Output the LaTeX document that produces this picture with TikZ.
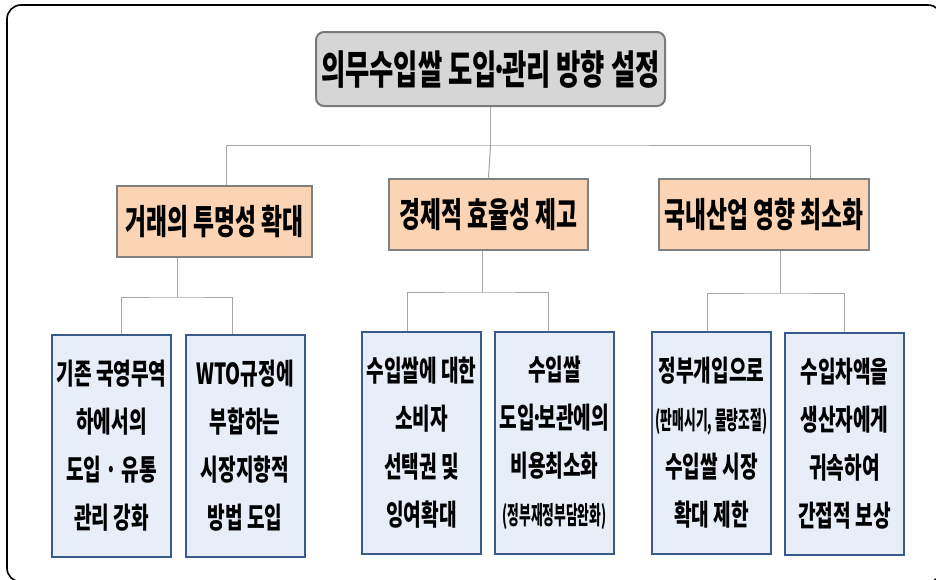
\documentclass[tikz,border=0pt]{standalone}
\usepackage{fontspec}
\setmainfont{Noto Sans CJK KR}[FakeStretch=0.66]
\newfontfamily\krs{Noto Sans CJK KR}[FakeStretch=0.51]
\definecolor{topfill}{HTML}{D6D6D6}
\definecolor{topline}{HTML}{7A7A7A}
\definecolor{midfill}{HTML}{FAD4B4}
\definecolor{midline}{HTML}{808080}
\definecolor{lowfill}{HTML}{E7EEF8}
\definecolor{lowline}{HTML}{3A5A8C}
\definecolor{connc}{HTML}{A6A6A6}
\tikzset{
  topbox/.style={draw=topline, fill=topfill, line width=2pt, rounded corners=8pt,
    minimum width=349pt, minimum height=74pt, inner sep=0pt,
    font=\bfseries\fontsize{40}{44}\selectfont},
  midbox/.style={draw=midline, fill=midfill, line width=2pt,
    minimum height=71pt, inner sep=0pt,
    font=\bfseries\fontsize{34.5}{38}\selectfont},
  lowbox/.style={draw=lowline, fill=lowfill, line width=2pt,
    minimum width=119pt, minimum height=222pt, inner sep=0pt, align=center,
    font=\bfseries\fontsize{29}{48}\selectfont},
  conn/.style={draw=connc, line width=1pt}
}
\newcommand{\sm}[1]{{\krs\bfseries\fontsize{25}{48}\selectfont #1}}
\newcommand{\tdot}{\kern-0.14em·\kern-0.14em}
\begin{document}
\begin{tikzpicture}[x=1pt,y=-1pt]
\useasboundingbox (0,0) rectangle (936,579);
\clip (0,0) rectangle (936,579);
\fill[white] (0,0) rectangle (936,579);
\draw[line width=1.6pt, rounded corners=14pt] (7,5) rectangle (942,582);

\node[topbox] (top) at (490.5,69) {의무수입쌀 도입\tdot 관리 방향 설정};

\node[midbox, minimum width=195pt] (A) at (214.5,221.5) {거래의 투명성 확대};
\node[midbox, minimum width=199pt] (B) at (488.5,214.5) {경제적 효율성 제고};
\node[midbox, minimum width=210pt] (C) at (764,214.5) {국내산업 영향 최소화};

\node[lowbox] (A1) at (111.5,446) {기존 국영무역\\하에서의\\도입 · 유통\\관리 강화};
\node[lowbox] (A2) at (245,446) {WTO규정에\\부합하는\\시장지향적\\방법 도입};
\node[lowbox] (B1) at (421.5,443) {수입쌀에 대한\\소비자\\선택권 및\\잉여확대};
\node[lowbox] (B2) at (554.5,443) {수입쌀\\도입\tdot 보관에의\\비용최소화\\\sm{(정부재정부담완화)}};
\node[lowbox] (C1) at (711.5,443) {정부개입으로\\\sm{(판매시기, 물량조절)}\\수입쌀 시장\\확대 제한};
\node[lowbox] (C2) at (844.5,443.5) {수입차액을\\생산자에게\\귀속하여\\간접적 보상};

% top level connectors
\draw[conn] (top.south) -- ++(0,38) coordinate (j0);
\draw[conn] ([xshift=11.5pt]A.north) |- (j0) -| ([xshift=46pt]C.north);
\draw[conn] (j0) -- (B.north);

% A group
\draw[conn] ([xshift=-37.5pt]A.south) -- ++(0,39) coordinate (ja);
\draw[conn] ([xshift=9.5pt]A1.north) |- (ja) -| ([xshift=-13pt]A2.north);
% B group
\draw[conn] ([xshift=-6.5pt]B.south) -- ++(0,41) coordinate (jb);
\draw[conn] ([xshift=-14.5pt]B1.north) |- (jb) -| ([xshift=-6.5pt]B2.north);
% C group
\draw[conn] ([xshift=16pt]C.south) -- ++(0,42) coordinate (jc);
\draw[conn] ([xshift=-4.5pt]C1.north) |- (jc) -| ([xshift=-0.5pt]C2.north);
\end{tikzpicture}
\end{document}
